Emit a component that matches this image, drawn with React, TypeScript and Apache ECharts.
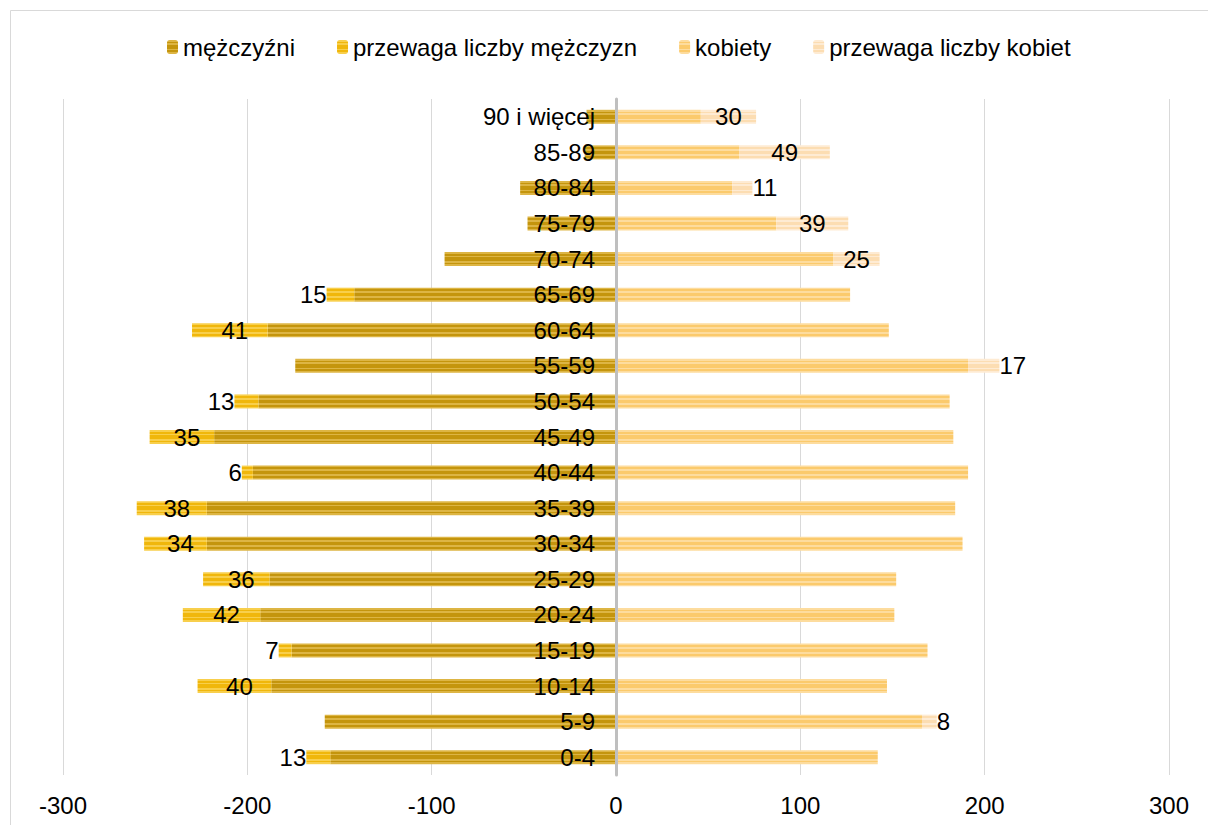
import React, { useEffect, useRef } from "react";
import * as echarts from "echarts";

const categories = [
  "0-4", "5-9", "10-14", "15-19", "20-24", "25-29", "30-34", "35-39", "40-44",
  "45-49", "50-54", "55-59", "60-64", "65-69", "70-74", "75-79", "80-84", "85-89", "90 i więcej",
];
const men = [155, 158, 187, 176, 193, 188, 222, 222, 197, 218, 194, 174, 189, 142, 93, 48, 52, 17, 16];
const menExcess = [13, 0, 40, 7, 42, 36, 34, 38, 6, 35, 13, 0, 41, 15, 0, 0, 0, 0, 0];
const women = [142, 166, 147, 169, 151, 152, 188, 184, 191, 183, 181, 191, 148, 127, 118, 87, 63, 67, 46];
const womenExcess = [0, 8, 0, 0, 0, 0, 0, 0, 0, 0, 0, 17, 0, 0, 25, 39, 11, 49, 30];
const seriesNames = ["mężczyźni", "przewaga liczby mężczyzn", "kobiety", "przewaga liczby kobiet"];
const xTicks = { min: -300, max: 300, interval: 100 };

const FONT = "Liberation Sans, Arial, sans-serif";

function stripes(dark: string, light: string) {
  const seq = [light, dark, light, dark, dark, light, dark, light];
  const n = seq.length;
  const stops: any[] = [];
  seq.forEach((c, i) => {
    stops.push({ offset: i / n, color: c });
    stops.push({ offset: (i + 1) / n, color: c });
  });
  return new echarts.graphic.LinearGradient(0, 0, 0, 1, stops);
}

export default function App() {
  const ref = useRef<HTMLDivElement>(null);
  useEffect(() => {
    if (!ref.current) return;
    const chart = echarts.init(ref.current, undefined, { renderer: "svg" });
    const labelBase = {
      show: true,
      fontSize: 24,
      color: "#000",
      fontFamily: FONT,
      formatter: (p: any) => String(Math.abs(p.value)),
    };
    const item = (v: number, side: "m" | "w") => {
      if (!v) return { value: 0, label: { show: false } };
      const small = v < 20;
      if (side === "m")
        return {
          value: -v,
          label: small ? { position: "left", distance: 0 } : { position: "inside", offset: [5, 0] },
        };
      return {
        value: v,
        label: small ? { position: "right", distance: 0 } : { position: "inside" },
      };
    };
    const colors = [
      stripes("#C4950D", "#DDB544"),
      stripes("#F0B70C", "#F8CF4C"),
      stripes("#FBCA6C", "#FDDC9E"),
      stripes("#FCDDB2", "#FEEBD3"),
    ];
    chart.setOption({
      animation: false,
      legend: {
        top: 30,
        left: 162,
        itemWidth: 11,
        itemHeight: 14,
        itemGap: 42,
        textStyle: { fontSize: 24, color: "#000", fontFamily: FONT },
        data: seriesNames,
      },
      grid: { left: 63, right: 39, top: 99, bottom: 50, containLabel: false, outerBoundsMode: "none" },
      graphic: [
        {
          type: "rect",
          shape: { x: 10.5, y: 10.5, width: 1210, height: 830 },
          style: { fill: "none", stroke: "#D9D9D9", lineWidth: 1 },
          silent: true,
        },
      ],
      xAxis: {
        type: "value",
        min: xTicks.min,
        max: xTicks.max,
        interval: xTicks.interval,
        axisLine: { show: false },
        axisTick: { show: false },
        splitLine: { lineStyle: { color: "#D9D9D9", width: 1 } },
        axisLabel: { fontSize: 24, color: "#000", fontFamily: FONT, margin: 18 },
      },
      yAxis: {
        type: "category",
        data: categories,
        z: 10,
        axisLine: { onZero: true, lineStyle: { color: "#BFBFBF", width: 3 } },
        axisTick: { show: false },
        axisLabel: { show: false },
      },
      series: [
        {
          name: seriesNames[0],
          type: "bar",
          stack: "a",
          barWidth: 14,
          itemStyle: { color: colors[0] },
          data: men.map((v) => -v),
        },
        {
          name: seriesNames[1],
          type: "bar",
          stack: "a",
          barWidth: 14,
          itemStyle: { color: colors[1] },
          label: labelBase,
          data: menExcess.map((v) => item(v, "m")),
        },
        {
          name: seriesNames[2],
          type: "bar",
          stack: "a",
          barWidth: 14,
          itemStyle: { color: colors[2] },
          data: women,
        },
        {
          name: seriesNames[3],
          type: "bar",
          stack: "a",
          barWidth: 14,
          itemStyle: { color: colors[3] },
          label: labelBase,
          data: womenExcess.map((v) => item(v, "w")),
        },
        {
          name: "categoryLabels",
          type: "scatter",
          symbolSize: 0,
          z: 20,
          silent: true,
          itemStyle: { opacity: 1 },
          label: {
            show: true,
            position: "left",
            distance: 21,
            fontSize: 24,
            color: "#000",
            opacity: 1,
            fontFamily: FONT,
            formatter: (p: any) => p.value[1],
          },
          data: categories.map((c) => [0, c]),
        },
      ],
    });
    return () => chart.dispose();
  }, []);
  return (
    <div
      ref={ref}
      style={{ position: "absolute", left: 0, top: 0, width: 1208, height: 825, background: "#fff" }}
    />
  );
}
